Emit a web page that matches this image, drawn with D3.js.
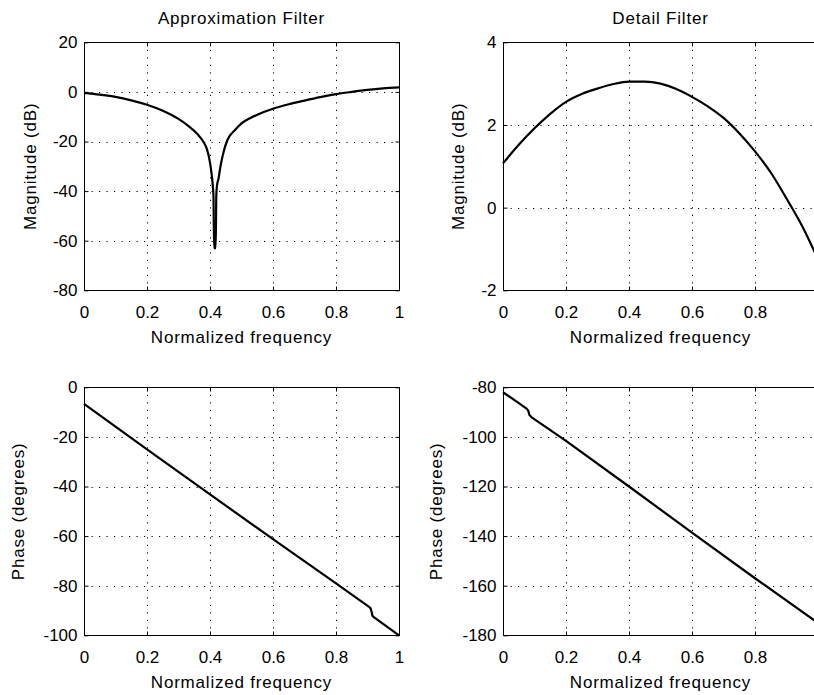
<!DOCTYPE html>
<html>
<head>
<meta charset="utf-8">
<script src="https://cdn.jsdelivr.net/npm/d3@7"></script>
<style>
  body { margin: 0; background: #fff; }
  svg { display: block; }
  text { font-family: "Liberation Sans", Arial, sans-serif; fill: #000; }
</style>
</head>
<body>
<svg id="chart" width="814" height="695"></svg>
<script>
// Approximation filter, magnitude (dB) vs normalized frequency
const approxMagFreq = [0, 0.05, 0.1, 0.15, 0.2, 0.25, 0.3, 0.33, 0.36, 0.38, 0.39, 0.4, 0.405, 0.409, 0.411, 0.413, 0.418,
  0.420, 0.422, 0.427, 0.434, 0.445, 0.455, 0.48, 0.5, 0.527, 0.55, 0.6, 0.65, 0.7, 0.75, 0.8, 0.85, 0.9, 0.95, 1];
const approxMag = [-0.4, -1.1, -2.0, -3.4, -5.2, -7.6, -10.9, -13.6, -17.0, -20.3, -23, -28.5, -33, -38, -42, -63, -63,
  -42, -38, -35, -29.5, -23.3, -19.5, -15.3, -12.7, -10.6, -9.2, -6.8, -5.0, -3.5, -2.1, -0.9, 0, 0.8, 1.4, 1.8];

// Detail filter, magnitude (dB)
const detailMagFreq = [0, 0.05, 0.1, 0.15, 0.2, 0.25, 0.3, 0.35, 0.4, 0.45, 0.5, 0.55, 0.6, 0.65, 0.7, 0.75, 0.8, 0.85, 0.9, 0.95, 1];
const detailMag = [1.07, 1.52, 1.92, 2.27, 2.56, 2.75, 2.88, 2.99, 3.05, 3.05, 3.0, 2.87, 2.68, 2.45, 2.17, 1.8, 1.36, 0.85, 0.22, -0.45, -1.25];

// Approximation filter, phase (degrees)
const approxPhaseFreq = [0, 0.2, 0.4, 0.6, 0.8, 0.905, 0.91, 0.913, 0.916, 0.92, 1];
const approxPhase = [-6.7, -25, -43.2, -61.2, -79.1, -88.5, -89.2, -90.5, -92.2, -92.7, -100];

// Detail filter, phase (degrees)
const detailPhaseFreq = [0, 0.04, 0.075, 0.08, 0.084, 0.09, 0.2, 0.4, 0.6, 0.8, 1];
const detailPhase = [-82, -85.5, -88.6, -89.4, -91.2, -92, -101.6, -120, -138.6, -157, -175];

const xTicks = [0, 0.2, 0.4, 0.6, 0.8, 1];
const xTickLabels = ['0', '0.2', '0.4', '0.6', '0.8', '1'];

const panels = [
  { left: 84, top: 42.3, title: 'Approximation Filter', ylabel: 'Magnitude (dB)', ylabelX: 36,
    yDomain: [-80, 20], yTicks: [-80, -60, -40, -20, 0, 20], xs: approxMagFreq, ys: approxMag, smooth: true },
  { left: 503, top: 42.3, title: 'Detail Filter', ylabel: 'Magnitude (dB)', ylabelX: 464,
    yDomain: [-2, 4], yTicks: [-2, 0, 2, 4], xs: detailMagFreq, ys: detailMag, smooth: true },
  { left: 84, top: 387.3, title: null, ylabel: 'Phase (degrees)', ylabelX: 24,
    yDomain: [-100, 0], yTicks: [-100, -80, -60, -40, -20, 0], xs: approxPhaseFreq, ys: approxPhase },
  { left: 503, top: 387.3, title: null, ylabel: 'Phase (degrees)', ylabelX: 442,
    yDomain: [-180, -80], yTicks: [-180, -160, -140, -120, -100, -80], xs: detailPhaseFreq, ys: detailPhase }
];

const W = 315, H = 248, tickLen = 4, svgW = 814;
const svg = d3.select('#chart');

panels.forEach(p => {
  const x = d3.scaleLinear().domain([0, 1]).range([p.left, p.left + W]);
  const y = d3.scaleLinear().domain(p.yDomain).range([p.top + H, p.top]);
  const g = svg.append('g');

  // dotted grid
  g.selectAll('.gx').data(xTicks).join('line')
    .attr('x1', d => Math.round(x(d)) + 0.5).attr('x2', d => Math.round(x(d)) + 0.5)
    .attr('y1', p.top).attr('y2', p.top + H)
    .attr('stroke', '#000').attr('stroke-width', 1).attr('stroke-dasharray', '1.2,6.3');
  g.selectAll('.gy').data(p.yTicks).join('line')
    .attr('y1', d => Math.round(y(d)) + 0.5).attr('y2', d => Math.round(y(d)) + 0.5)
    .attr('x1', p.left).attr('x2', p.left + W)
    .attr('stroke', '#000').attr('stroke-width', 1).attr('stroke-dasharray', '1.2,6.3');

  // curve
  const pts = p.xs.map((v, i) => [v, p.ys[i]]);
  const line = d3.line().x(d => x(d[0])).y(d => y(d[1]));
  if (p.smooth) line.curve(d3.curveMonotoneX);
  g.append('path')
    .datum(pts)
    .attr('fill', 'none')
    .attr('stroke', '#000')
    .attr('stroke-width', 2.2)
    .attr('stroke-linejoin', 'round')
    .attr('d', line);

  // frame
  g.append('rect')
    .attr('x', Math.round(p.left) + 0.5).attr('y', Math.round(p.top) + 0.5)
    .attr('width', W).attr('height', H)
    .attr('fill', 'none').attr('stroke', '#000').attr('stroke-width', 1);

  // inward ticks, all four sides (labels past the window edge are not drawn)
  const bx = g.append('g').attr('transform', `translate(0,${Math.round(p.top + H) + 0.5})`)
    .call(d3.axisBottom(x).tickValues(xTicks).tickSizeInner(-tickLen).tickSizeOuter(0)
      .tickFormat((d, i) => x(d) + 4 < svgW ? xTickLabels[i] : '').tickPadding(15));
  const tx = g.append('g').attr('transform', `translate(0,${Math.round(p.top) + 0.5})`)
    .call(d3.axisTop(x).tickValues(xTicks).tickSizeInner(-tickLen).tickSizeOuter(0).tickFormat(''));
  const ly = g.append('g').attr('transform', `translate(${Math.round(p.left) + 0.5},0)`)
    .call(d3.axisLeft(y).tickValues(p.yTicks).tickSizeInner(-tickLen).tickSizeOuter(0)
      .tickFormat(d => String(d)).tickPadding(7));
  const ry = g.append('g').attr('transform', `translate(${Math.round(p.left + W) + 0.5},0)`)
    .call(d3.axisRight(y).tickValues(p.yTicks).tickSizeInner(-tickLen).tickSizeOuter(0).tickFormat(''));
  [bx, tx, ly, ry].forEach(a => {
    a.select('.domain').remove();
    a.selectAll('.tick line').attr('stroke', '#000');
    a.selectAll('text').style('font-family', '"Liberation Sans", Arial, sans-serif')
      .style('font-size', '17px').attr('fill', '#000');
  });

  // labels
  g.append('text')
    .attr('x', p.left + W / 2).attr('y', p.top + H + 53)
    .attr('text-anchor', 'middle').style('font-size', '17px').style('letter-spacing', '0.8px')
    .text('Normalized frequency');
  g.append('text')
    .attr('transform', `translate(${p.ylabelX},${p.top + H / 2}) rotate(-90)`)
    .attr('text-anchor', 'middle').style('font-size', '17px').style('letter-spacing', '0.8px')
    .text(p.ylabel);
  if (p.title) {
    g.append('text')
      .attr('x', p.left + W / 2).attr('y', 24)
      .attr('text-anchor', 'middle').style('font-size', '17px').style('letter-spacing', '0.8px')
      .text(p.title);
  }
});
</script>
</body>
</html>
